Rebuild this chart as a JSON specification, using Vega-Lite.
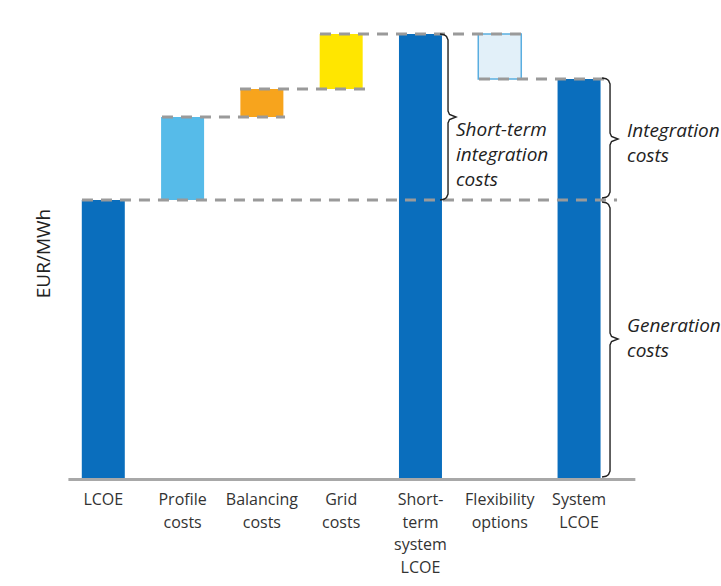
{
  "$schema": "https://vega.github.io/schema/vega-lite/v6.json",
  "width": 674,
  "height": 470,
  "autosize": {"type": "none"},
  "padding": {"left": 24, "top": 8, "right": 23, "bottom": 108},
  "background": "white",
  "config": {"view": {"stroke": null}, "font": "Open Sans"},
  "datasets": {
    "bars": [
      {"pos": 1, "label": "LCOE", "category": "generation", "start": 0, "end": 278},
      {"pos": 2, "label": "Profile\ncosts", "category": "profile", "start": 278, "end": 361},
      {"pos": 3, "label": "Balancing\ncosts", "category": "balancing", "start": 361, "end": 389},
      {"pos": 4, "label": "Grid\ncosts", "category": "grid", "start": 389, "end": 444},
      {"pos": 5, "label": "Short-\nterm\nsystem\nLCOE", "category": "generation", "start": 0, "end": 444},
      {"pos": 6, "label": "Flexibility\noptions", "category": "flexibility", "start": 444, "end": 399},
      {"pos": 7, "label": "System\nLCOE", "category": "generation", "start": 0, "end": 399}
    ],
    "baseline": [{"x": 0.56, "x2": 7.71, "y": 0}],
    "axistitle": [{"x": 0.252, "y": 224.5, "text": "EUR/MWh"}],
    "connectors": [
      {"x": 0.731, "x2": 7.479, "y": 278},
      {"x": 1.74, "x2": 3.292, "y": 361},
      {"x": 2.724, "x2": 4.301, "y": 389},
      {"x": 3.733, "x2": 6.319, "y": 444},
      {"x": 5.738, "x2": 7.353, "y": 399}
    ],
    "braces": [
      {"brace": "a", "i": 1, "x": 5.2466, "y": 444},
      {"brace": "a", "i": 2, "x": 5.297, "y": 443.3},
      {"brace": "a", "i": 3, "x": 5.3285, "y": 441.5},
      {"brace": "a", "i": 4, "x": 5.3475, "y": 438},
      {"brace": "a", "i": 5, "x": 5.3475, "y": 367},
      {"brace": "a", "i": 6, "x": 5.3664, "y": 363.5},
      {"brace": "a", "i": 7, "x": 5.4484, "y": 361},
      {"brace": "a", "i": 8, "x": 5.3664, "y": 358.5},
      {"brace": "a", "i": 9, "x": 5.3475, "y": 355},
      {"brace": "a", "i": 10, "x": 5.3475, "y": 284},
      {"brace": "a", "i": 11, "x": 5.3285, "y": 280.5},
      {"brace": "a", "i": 12, "x": 5.297, "y": 278.7},
      {"brace": "a", "i": 13, "x": 5.2466, "y": 278},
      {"brace": "b", "i": 1, "x": 7.2897, "y": 400},
      {"brace": "b", "i": 2, "x": 7.3402, "y": 399.3},
      {"brace": "b", "i": 3, "x": 7.3717, "y": 397.5},
      {"brace": "b", "i": 4, "x": 7.3906, "y": 394},
      {"brace": "b", "i": 5, "x": 7.3906, "y": 345},
      {"brace": "b", "i": 6, "x": 7.4095, "y": 341.5},
      {"brace": "b", "i": 7, "x": 7.4915, "y": 339},
      {"brace": "b", "i": 8, "x": 7.4095, "y": 336.5},
      {"brace": "b", "i": 9, "x": 7.3906, "y": 333},
      {"brace": "b", "i": 10, "x": 7.3906, "y": 286},
      {"brace": "b", "i": 11, "x": 7.3717, "y": 282.5},
      {"brace": "b", "i": 12, "x": 7.3402, "y": 280.7},
      {"brace": "b", "i": 13, "x": 7.2897, "y": 280},
      {"brace": "c", "i": 1, "x": 7.2897, "y": 276},
      {"brace": "c", "i": 2, "x": 7.3402, "y": 275.3},
      {"brace": "c", "i": 3, "x": 7.3717, "y": 273.5},
      {"brace": "c", "i": 4, "x": 7.3906, "y": 270},
      {"brace": "c", "i": 5, "x": 7.3906, "y": 145},
      {"brace": "c", "i": 6, "x": 7.4095, "y": 141.5},
      {"brace": "c", "i": 7, "x": 7.4915, "y": 139},
      {"brace": "c", "i": 8, "x": 7.4095, "y": 136.5},
      {"brace": "c", "i": 9, "x": 7.3906, "y": 133},
      {"brace": "c", "i": 10, "x": 7.3906, "y": 7},
      {"brace": "c", "i": 11, "x": 7.3717, "y": 3.5},
      {"brace": "c", "i": 12, "x": 7.3402, "y": 1.7},
      {"brace": "c", "i": 13, "x": 7.2897, "y": 1}
    ],
    "notes": [
      {"x": 5.448, "y": 348, "text": "Short-term\nintegration\ncosts"},
      {"x": 7.605, "y": 347, "text": "Integration\ncosts"},
      {"x": 7.605, "y": 152, "text": "Generation\ncosts"}
    ]
  },
  "layer": [
    {
      "data": {"name": "bars"},
      "mark": {"type": "bar", "width": 43, "orient": "vertical"},
      "encoding": {
        "x": {"field": "pos", "type": "quantitative", "scale": {"domain": [0, 8.5], "nice": false, "zero": false, "padding": 0}, "axis": null},
        "y": {"field": "start", "type": "quantitative", "scale": {"domain": [0, 470], "nice": false, "zero": false}, "axis": null},
        "y2": {"field": "end"},
        "fill": {
          "field": "category", "type": "nominal",
          "scale": {"domain": ["generation", "profile", "balancing", "grid", "flexibility"],
                    "range": ["#0a6ebd", "#56bbe9", "#f7a41d", "#ffe600", "#e2f0f9"]},
          "legend": null
        },
        "stroke": {"condition": {"test": "datum.category === 'flexibility'", "value": "#5aaee0"}, "value": "transparent"},
        "strokeWidth": {"value": 1.5}
      }
    },
    {
      "data": {"name": "baseline"},
      "mark": {"type": "rule", "stroke": "#a8a8a8", "strokeWidth": 3, "yOffset": 1.5},
      "encoding": {
        "x": {"field": "x", "type": "quantitative", "axis": null},
        "x2": {"field": "x2"},
        "y": {"field": "y", "type": "quantitative", "axis": null}
      }
    },
    {
      "data": {"name": "connectors"},
      "mark": {"type": "rule", "stroke": "#9a9a9a", "strokeWidth": 3, "strokeDash": [11, 8]},
      "encoding": {
        "x": {"field": "x", "type": "quantitative", "axis": null},
        "x2": {"field": "x2"},
        "y": {"field": "y", "type": "quantitative", "axis": null}
      }
    },
    {
      "data": {"name": "braces"},
      "mark": {"type": "line", "stroke": "#222222", "strokeWidth": 1.4, "interpolate": "linear"},
      "encoding": {
        "x": {"field": "x", "type": "quantitative", "axis": null},
        "y": {"field": "y", "type": "quantitative", "axis": null},
        "detail": {"field": "brace", "type": "nominal"},
        "order": {"field": "i", "type": "quantitative"}
      }
    },
    {
      "data": {"name": "notes"},
      "mark": {"type": "text", "align": "left", "baseline": "middle", "fontStyle": "italic", "fontSize": 19, "lineBreak": "\n", "lineHeight": 25, "color": "#222222", "font": "Open Sans"},
      "encoding": {
        "x": {"field": "x", "type": "quantitative", "axis": null},
        "y": {"field": "y", "type": "quantitative", "axis": null},
        "text": {"field": "text", "type": "nominal"}
      }
    },
    {
      "data": {"name": "axistitle"},
      "mark": {"type": "text", "align": "center", "baseline": "middle", "angle": 270, "fontSize": 19, "color": "#222222", "font": "Open Sans"},
      "encoding": {
        "x": {"field": "x", "type": "quantitative", "axis": null},
        "y": {"field": "y", "type": "quantitative", "axis": null},
        "text": {"field": "text", "type": "nominal"}
      }
    },
    {
      "data": {"name": "bars"},
      "mark": {"type": "text", "align": "center", "baseline": "top", "dy": 14, "fontSize": 16, "lineBreak": "\n", "lineHeight": 22.7, "color": "#333333", "font": "Open Sans"},
      "encoding": {
        "x": {"field": "pos", "type": "quantitative", "axis": null},
        "y": {"datum": 0, "type": "quantitative", "axis": null},
        "text": {"field": "label", "type": "nominal"}
      }
    }
  ]
}
